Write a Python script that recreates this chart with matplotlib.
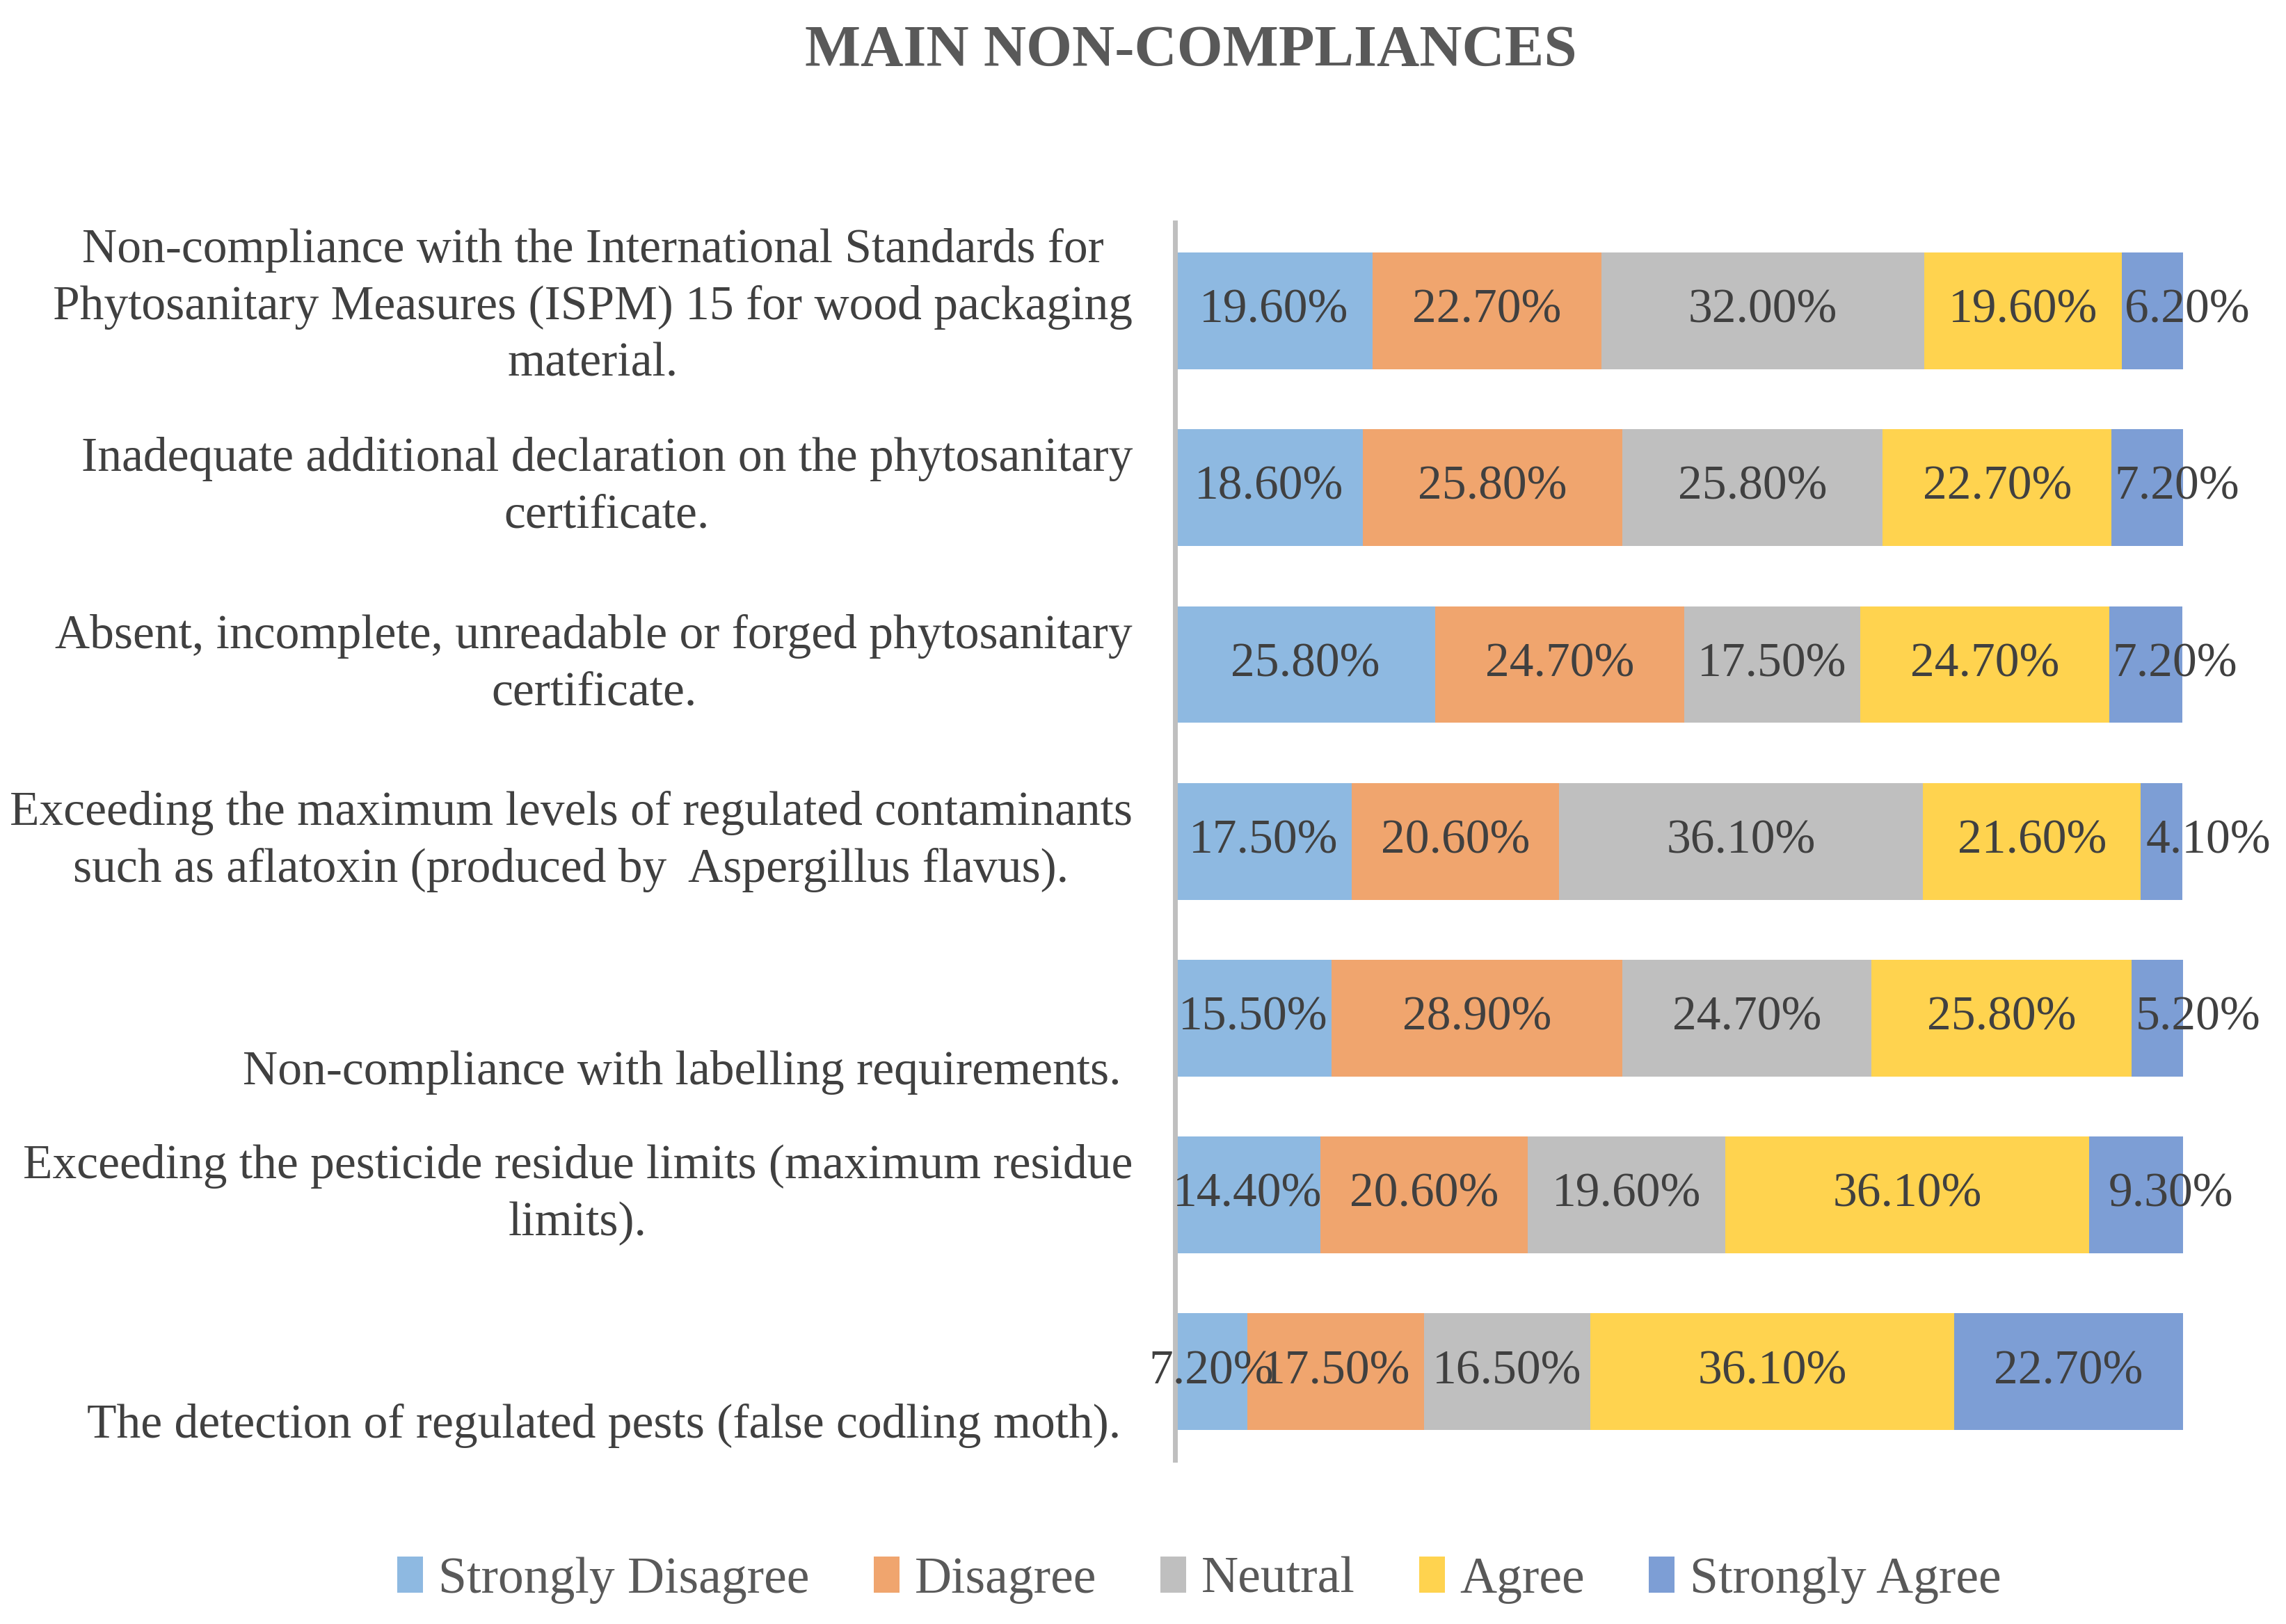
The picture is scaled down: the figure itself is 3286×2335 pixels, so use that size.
import matplotlib
matplotlib.use("Agg")
import matplotlib.pyplot as plt
from matplotlib import transforms

categories = [
    "Non-compliance with the International Standards for\nPhytosanitary Measures (ISPM) 15 for wood packaging\nmaterial.",
    "Inadequate additional declaration on the phytosanitary\ncertificate.",
    "Absent, incomplete, unreadable or forged phytosanitary\ncertificate.",
    "Exceeding the maximum levels of regulated contaminants\nsuch as aflatoxin (produced by  Aspergillus flavus).",
    "Non-compliance with labelling requirements.",
    "Exceeding the pesticide residue limits (maximum residue\nlimits).",
    "The detection of regulated pests (false codling moth).",
]
series_names = ["Strongly Disagree", "Disagree", "Neutral", "Agree", "Strongly Agree"]
strongly_disagree = [19.6, 18.6, 25.8, 17.5, 15.5, 14.4, 7.2]
disagree = [22.7, 25.8, 24.7, 20.6, 28.9, 20.6, 17.5]
neutral = [32.0, 25.8, 17.5, 36.1, 24.7, 19.6, 16.5]
agree = [19.6, 22.7, 24.7, 21.6, 25.8, 36.1, 36.1]
strongly_agree = [6.2, 7.2, 7.2, 4.1, 5.2, 9.3, 22.7]
series_values = [strongly_disagree, disagree, neutral, agree, strongly_agree]

colors = ["#8EB9E1", "#F0A56E", "#BFBFBF", "#FFD34F", "#7D9ED5"]
label_offsets_pt = [2, 0, 0, 0, -28, 0, -28]
label_right_pad_pt = [0, 0, 0, 0, 6, 0, 6]
last_label_pad = [0.3, 0.3, 0.3, 0.5, 0.4, 1.9, 0.3]

FONT = "Liberation Serif"
plt.rcParams["font.family"] = [FONT, "DejaVu Serif"]
FS = 25

fig = plt.figure(figsize=(16.43, 11.675), dpi=200)
ax = fig.add_axes([0.514, 0.1009, 0.955 - 0.514, 0.863 - 0.1009])

n = len(categories)
ypos = list(range(n))
left = [0.0] * n
last = len(series_values) - 1
for si, (name, vals, col) in enumerate(zip(series_names, series_values, colors)):
    ax.barh(ypos, vals, left=left, height=0.66, color=col, label=name, edgecolor="none")
    for i, v in enumerate(vals):
        if si == last and v < 10:
            ax.text(left[i] + last_label_pad[i], i, f"{v:.2f}%", ha="left", va="center",
                    fontsize=FS, color="#404040")
        else:
            ax.text(left[i] + v / 2, i, f"{v:.2f}%", ha="center", va="center",
                    fontsize=FS, color="#404040")
    left = [l + v for l, v in zip(left, vals)]

ax.set_xlim(0, 100)
ax.set_ylim(n - 0.5, -0.5)
ax.set_xticks([])
ax.set_yticks([])
for s in ["top", "right", "bottom"]:
    ax.spines[s].set_visible(False)
ax.spines["left"].set_color("#BFBFBF")
ax.spines["left"].set_linewidth(2.5)

for i, cat in enumerate(categories):
    tr = ax.get_yaxis_transform() + transforms.ScaledTranslation(
        -(22 + label_right_pad_pt[i]) / 72, label_offsets_pt[i] / 72, fig.dpi_scale_trans)
    ax.text(0, i, cat, transform=tr, ha="right", va="center", multialignment="center",
            fontsize=FS, color="#404040", linespacing=1.37)

fig.text(0.521, 0.968, "MAIN NON-COMPLIANCES", ha="center", va="center",
         fontsize=30.5, fontweight="bold", color="#595959")

fig.legend(loc="center", bbox_to_anchor=(0.5247, 0.027), ncol=5, frameon=False,
           fontsize=26.5, handlelength=0.5, handleheight=0.7, handletextpad=0.3,
           columnspacing=1.25, labelcolor="#595959")

fig.savefig("out.png", dpi=200)
